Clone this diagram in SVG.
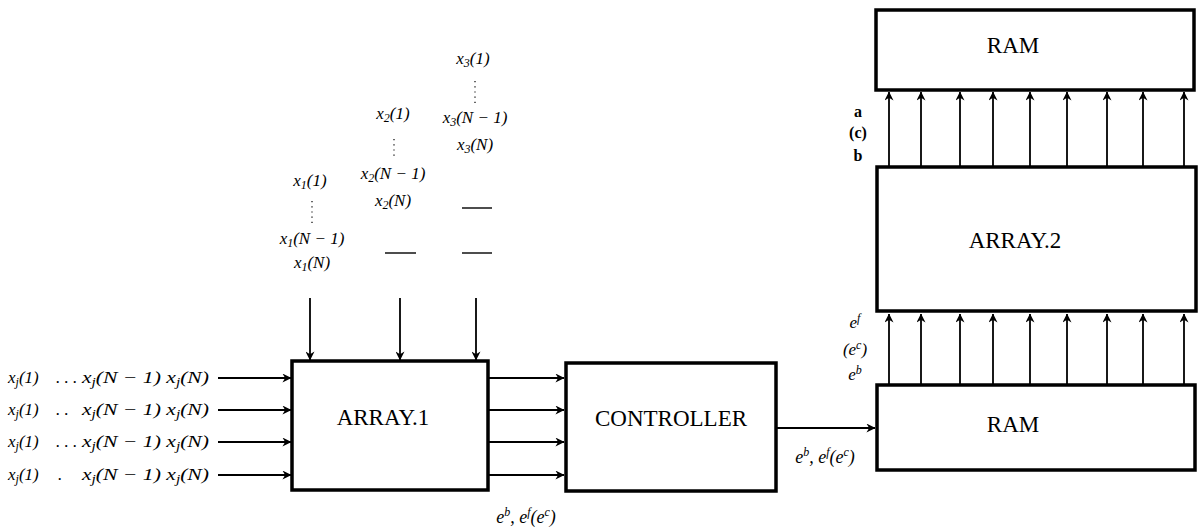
<svg xmlns="http://www.w3.org/2000/svg" width="1200" height="528" viewBox="0 0 1200 528">
<defs>
<style>
.box{fill:#fff;stroke:#000;stroke-width:3.5}
.ln{stroke:#000;stroke-width:1.8;fill:none}
.m{font-family:"Liberation Serif","DejaVu Serif","Times New Roman",serif;font-style:italic;font-size:17px;fill:#000}
.sub{font-size:12px}
.e{font-size:18px}
.t{font-family:"Liberation Serif","DejaVu Serif","Times New Roman",serif;font-size:23px;fill:#000;text-anchor:middle}
.b{font-family:"Liberation Serif","DejaVu Serif","Times New Roman",serif;font-weight:bold;font-size:16px;fill:#000;text-anchor:middle}
.c{text-anchor:middle}
.dot{stroke:#000;stroke-width:1.2;stroke-dasharray:1.2 4;fill:none}
</style>
<marker id="ah" viewBox="0 0 10 10" refX="9.5" refY="5" markerWidth="9" markerHeight="9" markerUnits="userSpaceOnUse" orient="auto">
<path d="M0,0 L10,5 L0,10 L3,5 z" fill="#000"/>
</marker>
</defs>
<rect width="1200" height="528" fill="#fff"/>

<g id="connectors">
<line class="ln" x1="218" y1="378" x2="291" y2="378" marker-end="url(#ah)"/>
<line class="ln" x1="218" y1="410" x2="291" y2="410" marker-end="url(#ah)"/>
<line class="ln" x1="218" y1="442" x2="291" y2="442" marker-end="url(#ah)"/>
<line class="ln" x1="218" y1="475" x2="291" y2="475" marker-end="url(#ah)"/>
<line class="ln" x1="310" y1="298" x2="310" y2="360" marker-end="url(#ah)"/>
<line class="ln" x1="400" y1="298" x2="400" y2="360" marker-end="url(#ah)"/>
<line class="ln" x1="476" y1="298" x2="476" y2="360" marker-end="url(#ah)"/>
<line class="ln" x1="488" y1="378" x2="564" y2="378" marker-end="url(#ah)"/>
<line class="ln" x1="488" y1="410" x2="564" y2="410" marker-end="url(#ah)"/>
<line class="ln" x1="488" y1="442" x2="564" y2="442" marker-end="url(#ah)"/>
<line class="ln" x1="488" y1="475" x2="564" y2="475" marker-end="url(#ah)"/>
<line class="ln" x1="777" y1="428" x2="875" y2="428" marker-end="url(#ah)"/>
<g>
<line class="ln" x1="889" y1="384" x2="889" y2="314" marker-end="url(#ah)"/>
<line class="ln" x1="921" y1="384" x2="921" y2="314" marker-end="url(#ah)"/>
<line class="ln" x1="960" y1="384" x2="960" y2="314" marker-end="url(#ah)"/>
<line class="ln" x1="993" y1="384" x2="993" y2="314" marker-end="url(#ah)"/>
<line class="ln" x1="1030" y1="384" x2="1030" y2="314" marker-end="url(#ah)"/>
<line class="ln" x1="1067" y1="384" x2="1067" y2="314" marker-end="url(#ah)"/>
<line class="ln" x1="1107" y1="384" x2="1107" y2="314" marker-end="url(#ah)"/>
<line class="ln" x1="1143" y1="384" x2="1143" y2="314" marker-end="url(#ah)"/>
<line class="ln" x1="1184" y1="384" x2="1184" y2="314" marker-end="url(#ah)"/>
</g>
<g>
<line class="ln" x1="889" y1="166" x2="889" y2="92" marker-end="url(#ah)"/>
<line class="ln" x1="921" y1="166" x2="921" y2="92" marker-end="url(#ah)"/>
<line class="ln" x1="960" y1="166" x2="960" y2="92" marker-end="url(#ah)"/>
<line class="ln" x1="993" y1="166" x2="993" y2="92" marker-end="url(#ah)"/>
<line class="ln" x1="1030" y1="166" x2="1030" y2="92" marker-end="url(#ah)"/>
<line class="ln" x1="1067" y1="166" x2="1067" y2="92" marker-end="url(#ah)"/>
<line class="ln" x1="1107" y1="166" x2="1107" y2="92" marker-end="url(#ah)"/>
<line class="ln" x1="1143" y1="166" x2="1143" y2="92" marker-end="url(#ah)"/>
<line class="ln" x1="1184" y1="166" x2="1184" y2="92" marker-end="url(#ah)"/>
</g>
</g>

<g id="array1">
<rect class="box" x="292" y="361" width="196" height="129"/>
<text class="t" x="383" y="425">ARRAY.1</text>
</g>
<g id="controller">
<rect class="box" x="566" y="363" width="210" height="128"/>
<text class="t" x="671" y="426">CONTROLLER</text>
</g>
<g id="ram-bottom">
<rect class="box" x="877" y="385" width="318" height="85"/>
<text class="t" x="1013" y="432">RAM</text>
</g>
<g id="array2">
<rect class="box" x="877" y="167" width="319" height="144"/>
<text class="t" x="1015" y="248">ARRAY.2</text>
</g>
<g id="ram-top">
<rect class="box" x="876" y="10" width="318" height="80"/>
<text class="t" x="1013" y="53">RAM</text>
</g>

<g id="input-labels">
<g>
<text class="m" x="8" y="383">x<tspan class="sub" dy="3">j</tspan><tspan dy="-3">(1)</tspan></text>
<text class="m" x="56" y="383">. . .</text>
<text class="m" x="82" y="383" textLength="127" lengthAdjust="spacingAndGlyphs">x<tspan class="sub" dy="3">j</tspan><tspan dy="-3">(N − 1) x</tspan><tspan class="sub" dy="3">j</tspan><tspan dy="-3">(N)</tspan></text>
</g>
<g>
<text class="m" x="8" y="415">x<tspan class="sub" dy="3">j</tspan><tspan dy="-3">(1)</tspan></text>
<text class="m" x="56" y="415">. .</text>
<text class="m" x="82" y="415" textLength="127" lengthAdjust="spacingAndGlyphs">x<tspan class="sub" dy="3">j</tspan><tspan dy="-3">(N − 1) x</tspan><tspan class="sub" dy="3">j</tspan><tspan dy="-3">(N)</tspan></text>
</g>
<g>
<text class="m" x="8" y="447">x<tspan class="sub" dy="3">j</tspan><tspan dy="-3">(1)</tspan></text>
<text class="m" x="56" y="447">. . .</text>
<text class="m" x="82" y="447" textLength="127" lengthAdjust="spacingAndGlyphs">x<tspan class="sub" dy="3">j</tspan><tspan dy="-3">(N − 1) x</tspan><tspan class="sub" dy="3">j</tspan><tspan dy="-3">(N)</tspan></text>
</g>
<g>
<text class="m" x="8" y="480">x<tspan class="sub" dy="3">j</tspan><tspan dy="-3">(1)</tspan></text>
<text class="m" x="58" y="480">.</text>
<text class="m" x="82" y="480" textLength="127" lengthAdjust="spacingAndGlyphs">x<tspan class="sub" dy="3">j</tspan><tspan dy="-3">(N − 1) x</tspan><tspan class="sub" dy="3">j</tspan><tspan dy="-3">(N)</tspan></text>
</g>
</g>

<g id="x1-labels">
<text class="m c" x="310" y="186">x<tspan class="sub" dy="3">1</tspan><tspan dy="-3">(1)</tspan></text>
<line class="dot" x1="312" y1="201" x2="312" y2="224"/>
<text class="m c" x="312" y="244">x<tspan class="sub" dy="3">1</tspan><tspan dy="-3">(N − 1)</tspan></text>
<text class="m c" x="312" y="268">x<tspan class="sub" dy="3">1</tspan><tspan dy="-3">(N)</tspan></text>
</g>
<g id="x2-labels">
<text class="m c" x="393" y="119">x<tspan class="sub" dy="3">2</tspan><tspan dy="-3">(1)</tspan></text>
<line class="dot" x1="394" y1="139" x2="394" y2="158"/>
<text class="m c" x="393" y="179">x<tspan class="sub" dy="3">2</tspan><tspan dy="-3">(N − 1)</tspan></text>
<text class="m c" x="393" y="206">x<tspan class="sub" dy="3">2</tspan><tspan dy="-3">(N)</tspan></text>
<line class="ln" x1="385" y1="253" x2="416" y2="253" style="stroke-width:1.4"/>
</g>
<g id="x3-labels">
<text class="m c" x="473" y="64">x<tspan class="sub" dy="3">3</tspan><tspan dy="-3">(1)</tspan></text>
<line class="dot" x1="475" y1="81" x2="475" y2="103"/>
<text class="m c" x="475" y="123">x<tspan class="sub" dy="3">3</tspan><tspan dy="-3">(N − 1)</tspan></text>
<text class="m c" x="475" y="150">x<tspan class="sub" dy="3">3</tspan><tspan dy="-3">(N)</tspan></text>
<line class="ln" x1="462" y1="208" x2="492" y2="208" style="stroke-width:1.4"/>
<line class="ln" x1="462" y1="253" x2="492" y2="253" style="stroke-width:1.4"/>
</g>

<g id="edge-labels">
<text class="m e c" x="526" y="523">e<tspan class="sub" dy="-7">b</tspan><tspan dy="7">, e</tspan><tspan class="sub" dy="-7">f</tspan><tspan dy="7">(e</tspan><tspan class="sub" dy="-7">c</tspan><tspan dy="7">)</tspan></text>
<text class="m e c" x="825" y="463">e<tspan class="sub" dy="-7">b</tspan><tspan dy="7">, e</tspan><tspan class="sub" dy="-7">f</tspan><tspan dy="7">(e</tspan><tspan class="sub" dy="-7">c</tspan><tspan dy="7">)</tspan></text>
<text class="b" x="858" y="117">a</text>
<text class="b" x="858" y="138">(c)</text>
<text class="b" x="858" y="161">b</text>
<text class="m c" x="855" y="328">e<tspan class="sub" dy="-6">f</tspan></text>
<text class="m c" x="855" y="355">(e<tspan class="sub" dy="-6">c</tspan><tspan dy="6">)</tspan></text>
<text class="m c" x="855" y="380">e<tspan class="sub" dy="-6">b</tspan></text>
</g>
</svg>
